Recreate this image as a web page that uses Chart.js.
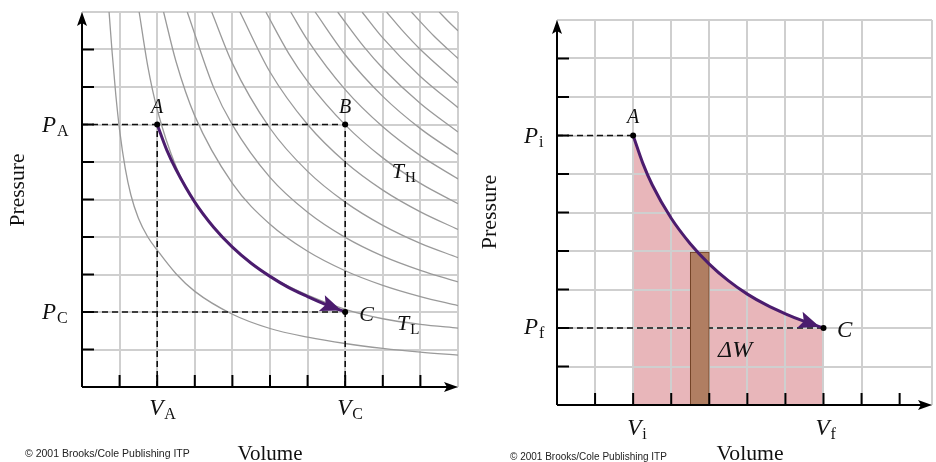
<!DOCTYPE html>
<html>
<head>
<meta charset="utf-8">
<script src="https://cdn.jsdelivr.net/npm/chart.js@4.4.0/dist/chart.umd.min.js"></script>
<style>
  html, body { margin: 0; padding: 0; background: #fff; }
  #wrap { position: relative; width: 936px; height: 462px; overflow: hidden; }
  canvas { position: absolute; top: 0; }
  #isoChart { left: 0; }
  #workChart { left: 468px; }
</style>
</head>
<body>
<div id="wrap">
  <canvas id="isoChart" width="468" height="462"></canvas>
  <canvas id="workChart" width="468" height="462"></canvas>
</div>
<script>
// ---------- left panel: isotherms and the path A -> C ----------
// one row per gray isotherm (volume, pressure), lowest one first
const isothermV = [
  [0.72, 0.8, 0.9, 1, 1.15, 1.3, 1.5, 1.75, 2, 2.5, 3, 4, 5, 6, 7, 8, 9, 10],
  [1.52, 1.75, 2, 2.5, 3, 4, 5, 6, 7, 8, 9, 10],
  [2.17, 2.5, 3, 4, 5, 6, 7, 8, 9, 10],
  [2.8, 3.5, 4, 5, 6, 7, 8, 9, 10],
  [3.45, 4, 5, 6, 7, 8, 9, 10],
  [4.2, 5, 6, 7, 8, 9, 10],
  [4.89, 5.5, 6, 7, 8, 9, 10],
  [5.55, 6, 7, 8, 9, 10],
  [6.2, 7, 8, 9, 10],
  [6.8, 7.5, 8, 9, 10],
  [7.45, 8, 9, 10],
  [8.1, 8.5, 9, 10],
  [8.76, 9.36, 10],
  [9.5, 9.75, 10]
];
const isothermP = [
  [10, 8.94, 7.78, 6.85, 5.83, 5.12, 4.5, 4.0, 3.65, 3.02, 2.55, 1.94, 1.56, 1.33, 1.16, 1.03, 0.93, 0.85],
  [10, 8.55, 7.4, 5.88, 4.93, 3.73, 2.96, 2.45, 2.07, 1.82, 1.67, 1.57],
  [10, 8.68, 7.23, 5.43, 4.34, 3.62, 3.1, 2.71, 2.41, 2.17],
  [10, 7.99, 6.99, 5.59, 4.66, 3.99, 3.49, 3.11, 2.8],
  [10, 8.63, 6.9, 5.75, 4.93, 4.31, 3.83, 3.45],
  [10, 8.4, 7, 6, 5.25, 4.67, 4.2],
  [10, 8.89, 8.15, 6.99, 6.11, 5.43, 4.89],
  [10, 9.25, 7.93, 6.94, 6.17, 5.55],
  [10, 8.86, 7.75, 6.89, 6.2],
  [10, 9.07, 8.5, 7.56, 6.8],
  [10, 9.31, 8.28, 7.45],
  [10, 9.53, 9, 8.1],
  [10, 9.36, 8.76],
  [10, 9.74, 9.5]
];
const pathV = [2, 2.25, 2.5, 3, 3.5, 4, 4.5, 5, 5.5, 6, 6.5, 7];
const pathP = [7, 6.33, 5.8, 4.93, 4.26, 3.73, 3.3, 2.95, 2.65, 2.41, 2.19, 2.0];
const stateNames = ['A', 'B', 'C'];
const stateV = [2, 7, 7];
const stateP = [7, 7, 2];

// ---------- right panel: work under the curve ----------
const workV = [2, 2.25, 2.5, 3, 3.5, 4, 4.5, 5, 5.5, 6, 6.5, 7];
const workP = [7, 6.29, 5.72, 4.85, 4.19, 3.66, 3.23, 2.88, 2.6, 2.37, 2.17, 2.0];
const workNames = ['A', 'C'];
const workStateV = [2, 7];
const workStateP = [7, 2];
const stripV = [3.5, 4.0];   // the thin slice dW
const stripP = 3.97;

const gridTicks = [1, 2, 3, 4, 5, 6, 7, 8, 9];

const purple = '#4b1c6e';
const serif = '"Liberation Serif", "Times New Roman", serif';

const xy = (vs, ps) => vs.map((v, i) => ({ x: v, y: ps[i] }));

function dashed(data) {
  return { data: data, showLine: true, borderColor: '#111', borderWidth: 1.6,
           borderDash: [6, 4], pointRadius: 0 };
}

function drawSymbol(ctx, x, y, main, sub, size, align) {
  ctx.font = 'italic ' + size + 'px ' + serif;
  ctx.textBaseline = 'alphabetic';
  let w = ctx.measureText(main).width;
  if (align === 'center') x -= w / 2;
  ctx.textAlign = 'left';
  ctx.fillText(main, x, y);
  if (sub) {
    ctx.font = Math.round(size * 0.7) + 'px ' + serif;
    ctx.fillText(sub, x + w + 1, y + 4);
  }
}

const decor = {
  id: 'decor',
  afterDatasetsDraw(chart) {
    const ctx = chart.ctx;
    chart.data.datasets.forEach((ds, i) => {
      if (!ds.arrowHead) return;
      const pts = chart.getDatasetMeta(i).data;
      const tip = pts[pts.length - 1], prev = pts[pts.length - 2];
      const bx = tip.cp1x !== undefined ? tip.cp1x : prev.x;
      const by = tip.cp1y !== undefined ? tip.cp1y : prev.y;
      const ang = Math.atan2(tip.y - by, tip.x - bx);
      const c = Math.cos(ang), s = Math.sin(ang);
      const tx = tip.x - c * 4, ty = tip.y - s * 4;
      const len = 21, half = 8.5;
      ctx.save();
      ctx.fillStyle = ds.borderColor;
      ctx.beginPath();
      ctx.moveTo(tx, ty);
      ctx.lineTo(tx - c * len - s * half, ty - s * len + c * half);
      ctx.lineTo(tx - c * len * 0.8, ty - s * len * 0.8);
      ctx.lineTo(tx - c * len + s * half, ty - s * len - c * half);
      ctx.closePath();
      ctx.fill();
      ctx.restore();
    });
  },
  afterDraw(chart, args, opts) {
    const ctx = chart.ctx, a = chart.chartArea;
    const xs = chart.scales.x, ys = chart.scales.y;
    ctx.save();
    // axes with arrows
    ctx.strokeStyle = '#000';
    ctx.fillStyle = '#000';
    ctx.lineWidth = 2;
    ctx.beginPath();
    ctx.moveTo(a.left, a.bottom); ctx.lineTo(a.right - 8, a.bottom);
    ctx.moveTo(a.left, a.bottom); ctx.lineTo(a.left, a.top + 8);
    ctx.stroke();
    ctx.beginPath();
    ctx.moveTo(a.right, a.bottom);
    ctx.lineTo(a.right - 14, a.bottom - 5);
    ctx.lineTo(a.right - 11, a.bottom);
    ctx.lineTo(a.right - 14, a.bottom + 5);
    ctx.closePath();
    ctx.moveTo(a.left, a.top);
    ctx.lineTo(a.left - 5, a.top + 14);
    ctx.lineTo(a.left, a.top + 11);
    ctx.lineTo(a.left + 5, a.top + 14);
    ctx.closePath();
    ctx.fill();
    // inward tick marks
    ctx.beginPath();
    gridTicks.forEach(t => {
      const px = xs.getPixelForValue(t), py = ys.getPixelForValue(t);
      ctx.moveTo(px, a.bottom); ctx.lineTo(px, a.bottom - 12);
      ctx.moveTo(a.left, py); ctx.lineTo(a.left + 12, py);
    });
    ctx.stroke();

    // symbols placed from data coordinates
    ctx.fillStyle = '#111';
    opts.labels.forEach(l => {
      const x = xs.getPixelForValue(l.v) + (l.dx || 0);
      const y = ys.getPixelForValue(l.p) + (l.dy || 0);
      drawSymbol(ctx, x, y, l.main, l.sub, l.size, l.align);
    });

    // axis titles and credit line
    const f = opts.frame;
    ctx.textAlign = 'center';
    ctx.textBaseline = 'middle';
    ctx.font = f.pressure[2] + 'px ' + serif;
    ctx.save();
    ctx.translate(f.pressure[0], f.pressure[1]);
    ctx.rotate(-Math.PI / 2);
    ctx.fillText('Pressure', 0, 0);
    ctx.restore();
    ctx.textBaseline = 'alphabetic';
    ctx.font = f.volume[2] + 'px ' + serif;
    ctx.fillText('Volume', f.volume[0], f.volume[1]);
    ctx.textAlign = 'left';
    ctx.fillStyle = '#222';
    ctx.font = f.credit[2] + 'px "Liberation Sans", Arial, sans-serif';
    ctx.fillText('\u00A9 2001 Brooks/Cole Publishing ITP', f.credit[0], f.credit[1]);
    ctx.restore();
  }
};

function scalesFor(xmax) {
  const grid = { color: '#cfcfcf', lineWidth: 2, drawTicks: false, offset: false };
  return {
    x: { type: 'linear', min: 0, max: xmax, offset: false, ticks: { display: false, stepSize: 1 }, grid: grid, border: { display: false } },
    y: { type: 'linear', min: 0, max: 10, offset: false, ticks: { display: false, stepSize: 1 }, grid: grid, border: { display: false } }
  };
}

// ---------- left chart ----------
const isoDatasets = [
  { data: xy(stateV, stateP), pointRadius: 3, pointBackgroundColor: '#000', pointBorderWidth: 0 },
  { data: xy(pathV, pathP), showLine: true, borderColor: purple, borderWidth: 3, pointRadius: 0,
    cubicInterpolationMode: 'monotone', arrowHead: true },
  dashed(xy([0, stateV[1]], [stateP[0], stateP[1]])),
  dashed(xy([0, stateV[2]], [stateP[2], stateP[2]])),
  dashed(xy([stateV[0], stateV[0]], [0, stateP[0]])),
  dashed(xy([stateV[1], stateV[1]], [0, stateP[1]]))
];
isothermV.forEach((vs, i) => {
  isoDatasets.push({ data: xy(vs, isothermP[i]), showLine: true, borderColor: '#9a9a9a',
    borderWidth: 1.3, pointRadius: 0, cubicInterpolationMode: 'monotone' });
});

new Chart(document.getElementById('isoChart'), {
  type: 'scatter',
  data: { datasets: isoDatasets },
  options: {
    responsive: false, animation: false, events: [],
    layout: { padding: { left: 82, top: 12, right: 10, bottom: 75 } },
    scales: scalesFor(10),
    plugins: {
      legend: { display: false }, tooltip: { enabled: false },
      decor: {
        labels: [
          { main: stateNames[0], v: stateV[0], p: stateP[0], dy: -11.5, size: 20, align: 'center' },
          { main: stateNames[1], v: stateV[1], p: stateP[1], dy: -11.5, size: 20, align: 'center' },
          { main: stateNames[2], v: stateV[2], p: stateP[2], dx: 14, dy: 8.5, size: 22 },
          { main: 'T', sub: 'H', v: 8.24, p: 5.57, size: 22 },
          { main: 'T', sub: 'L', v: 8.38, p: 1.52, size: 22 },
          { main: 'P', sub: 'A', v: 0, p: stateP[0], dx: -40, dy: 7.5, size: 23 },
          { main: 'P', sub: 'C', v: 0, p: stateP[2], dx: -40, dy: 7, size: 23 },
          { main: 'V', sub: 'A', v: stateV[0], p: 0, dx: -8, dy: 28, size: 23 },
          { main: 'V', sub: 'C', v: stateV[2], p: 0, dx: -8, dy: 28, size: 23 }
        ],
        frame: { pressure: [18, 190, 21.5], volume: [270, 460, 21], credit: [25, 457, 10.5] }
      }
    }
  },
  plugins: [decor]
});

// ---------- right chart ----------
const workChart = new Chart(document.getElementById('workChart'), {
  type: 'scatter',
  data: {
    datasets: [
      { data: xy(workStateV, workStateP), pointRadius: 3, pointBackgroundColor: '#000', pointBorderWidth: 0 },
      { data: xy(workV, workP), showLine: true, borderColor: purple, borderWidth: 3, pointRadius: 0,
        cubicInterpolationMode: 'monotone', arrowHead: true },
      { type: 'bar', data: [{ x: (stripV[0] + stripV[1]) / 2, y: stripP }],
        backgroundColor: '#b07e62', borderColor: '#6e3f22', borderWidth: 1, barThickness: 19 },
      dashed(xy([0, workStateV[0]], [workStateP[0], workStateP[0]])),
      dashed(xy([0, workStateV[1]], [workStateP[1], workStateP[1]])),
      { data: xy(workV, workP), showLine: true, borderWidth: 0, pointRadius: 0,
        cubicInterpolationMode: 'monotone', fill: 'origin', backgroundColor: '#e8b6ba' }
    ]
  },
  options: {
    responsive: false, animation: false, events: [],
    layout: { padding: { left: 89, top: 20, right: 0, bottom: 57 } },
    scales: scalesFor(9.85),
    plugins: {
      legend: { display: false }, tooltip: { enabled: false },
      filler: { drawTime: 'beforeDraw' },
      decor: {
        labels: [
          { main: workNames[0], v: workStateV[0], p: workStateP[0], dy: -12.5, size: 20, align: 'center' },
          { main: workNames[1], v: workStateV[1], p: workStateP[1], dx: 13.5, dy: 9, size: 23 },
          { main: '\u0394W', v: 4.23, p: 1.25, size: 24 },
          { main: 'P', sub: 'i', v: 0, p: workStateP[0], dx: -33, dy: 7.5, size: 23 },
          { main: 'P', sub: 'f', v: 0, p: workStateP[1], dx: -33, dy: 6, size: 23 },
          { main: 'V', sub: 'i', v: workStateV[0], p: 0, dx: -6, dy: 30, size: 23 },
          { main: 'V', sub: 'f', v: workStateV[1], p: 0, dx: -8, dy: 30, size: 23 }
        ],
        frame: { pressure: [22, 212, 22], volume: [282, 460, 21.7], credit: [42, 460, 10] }
      }
    }
  },
  plugins: [decor]
});

// slice width follows the volume scale
const xsc = workChart.scales.x;
workChart.data.datasets[2].barThickness = xsc.getPixelForValue(stripV[1]) - xsc.getPixelForValue(stripV[0]);
workChart.update();
</script>
</body>
</html>
